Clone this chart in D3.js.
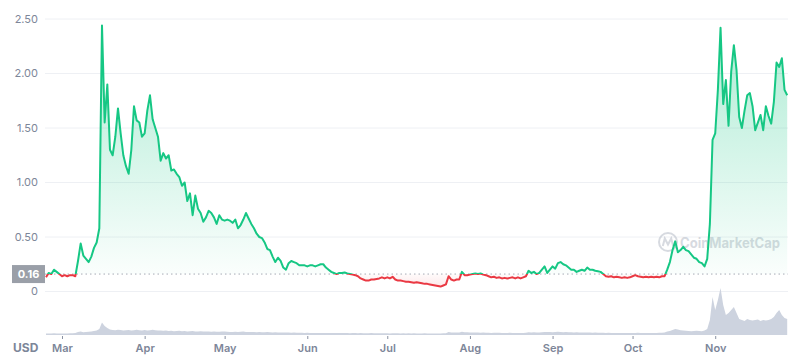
<!DOCTYPE html>
<html><head><meta charset="utf-8">
<script src="https://cdn.jsdelivr.net/npm/d3@7"></script>
<style>body{margin:0;background:#fff;}svg{display:block;font-family:Inter,"Noto Sans",sans-serif;}</style>
</head><body>
<svg id="c" width="800" height="356"></svg>
<script>
const startDate = "2021-02-23";
const baseline = 0.16;
const prices = [
0.13,0.17,0.16,0.20,0.18,0.16,0.14,0.15,0.14,0.15,
0.15,0.14,0.28,0.44,0.33,0.30,0.27,0.32,0.40,0.45,
0.58,2.44,1.55,1.90,1.30,1.25,1.42,1.68,1.45,1.25,
1.15,1.08,1.30,1.70,1.57,1.55,1.42,1.45,1.66,1.80,
1.58,1.50,1.42,1.20,1.27,1.22,1.25,1.11,1.12,1.08,
1.05,0.97,1.00,0.83,0.90,0.70,0.88,0.76,0.72,0.64,
0.68,0.74,0.72,0.68,0.62,0.70,0.66,0.65,0.66,0.65,
0.63,0.66,0.58,0.61,0.66,0.72,0.67,0.62,0.58,0.53,
0.50,0.49,0.45,0.39,0.38,0.32,0.27,0.31,0.28,0.22,
0.20,0.26,0.28,0.27,0.26,0.24,0.24,0.24,0.23,0.24,
0.24,0.23,0.24,0.25,0.25,0.22,0.20,0.18,0.17,0.16,
0.17,0.17,0.175,0.165,0.16,0.155,0.15,0.14,0.12,0.11,
0.10,0.10,0.11,0.11,0.115,0.12,0.13,0.12,0.13,0.12,
0.135,0.11,0.10,0.10,0.095,0.09,0.09,0.085,0.08,0.085,
0.08,0.075,0.07,0.07,0.065,0.06,0.055,0.05,0.045,0.055,
0.065,0.14,0.11,0.10,0.11,0.11,0.18,0.15,0.15,0.155,
0.16,0.165,0.16,0.165,0.155,0.15,0.14,0.13,0.135,0.125,
0.13,0.12,0.125,0.12,0.125,0.13,0.12,0.13,0.12,0.13,
0.14,0.19,0.17,0.18,0.16,0.17,0.20,0.23,0.17,0.20,
0.23,0.21,0.26,0.27,0.25,0.24,0.22,0.20,0.20,0.18,
0.19,0.20,0.19,0.22,0.20,0.20,0.19,0.185,0.18,0.16,
0.14,0.135,0.14,0.13,0.135,0.13,0.125,0.13,0.125,0.13,
0.14,0.15,0.14,0.135,0.13,0.135,0.13,0.135,0.13,0.135,
0.13,0.14,0.14,0.20,0.27,0.38,0.46,0.36,0.38,0.41,
0.38,0.37,0.34,0.31,0.30,0.27,0.26,0.23,0.30,0.62,
1.39,1.45,1.85,2.42,1.72,1.94,1.52,2.02,2.26,2.03,
1.60,1.50,1.66,1.80,1.82,1.70,1.48,1.55,1.62,1.48,
1.70,1.61,1.54,1.74,2.10,2.06,2.14,1.85,1.80
];
const volumes = [
15,14,16,18,15,14,16,15,14,17,18,20,
30,35,28,30,32,35,40,45,60,
125,90,70,
55,50,48,52,50,45,48,50,45,47,52,48,45,50,46,48,52,47,44,45,42,44,
40,42,38,40,42,38,40,36,38,40,36,35,38,34,36,35,33,34,32,33,35,34,32,30,31,33,30,32,34,30,29,31,30,28,29,27,28,30,28,26,27,25,26,24,25,24,23,24,22,23,22,21,
22,21,20,21,20,20,19,20,21,20,19,20,21,19,20,19,18,20,19,18,19,18,17,18,19,18,17,18,17,18,17,16,17,18,17,16,17,16,17,16,17,16,15,16,17,16,15,16,15,16,16,17,18,
30,25,24,26,25,32,28,27,26,25,
24,25,23,24,22,23,21,22,23,22,21,20,21,22,20,21,20,21,20,22,28,26,27,25,26,28,30,29,31,28,30,32,30,28,29,27,28,26,27,25,26,25,24,25,23,24,22,23,22,21,22,20,21,20,21,20,19,20,21,20,19,22,21,20,19,20,19,20,21,22,23,25,
35,40,50,60,55,48,45,42,40,38,40,42,40,38,45,60,
150,380,250,350,470,300,200,220,250,280,220,160,150,140,160,150,145,150,155,140,150,145,150,160,180,220,250,200,170,160
];
const yTickValues = [0, 0.5, 1, 1.5, 2, 2.5];
const yTickLabels = ["0", "0.50", "1.00", "1.50", "2.00", "2.50"];
const monthTicks = ["2021-03-01","2021-04-01","2021-05-01","2021-06-01","2021-07-01","2021-08-01","2021-09-01","2021-10-01","2021-11-01"];

const parse = d3.utcParse("%Y-%m-%d");
const t0 = parse(startDate);
const data = prices.map((p, i) => ({date: d3.utcDay.offset(t0, i), price: p, vol: volumes[i] || 0}));

const svg = d3.select("#c");
const x = d3.scaleUtc().domain([data[0].date, data[data.length-1].date]).range([46, 787.2]);
const y = d3.scaleLinear().domain([0, 2.5]).range([291.5, 19]);
const vy = d3.scaleLinear().domain([0, 470]).range([335, 288]);
const yB = y(baseline);
const GREEN = "#16c784", RED = "#ea3943";

const defs = svg.append("defs");
const grad = defs.append("linearGradient").attr("id","gfill").attr("gradientUnits","userSpaceOnUse")
  .attr("x1",0).attr("x2",0).attr("y1",y(2.5)).attr("y2",yB);
grad.append("stop").attr("offset","0%").attr("stop-color",GREEN).attr("stop-opacity",0.36);
grad.append("stop").attr("offset","100%").attr("stop-color",GREEN).attr("stop-opacity",0.02);
const rgrad = defs.append("linearGradient").attr("id","rfill").attr("gradientUnits","userSpaceOnUse")
  .attr("x1",0).attr("x2",0).attr("y1",yB).attr("y2",y(0));
rgrad.append("stop").attr("offset","0%").attr("stop-color",RED).attr("stop-opacity",0.02);
rgrad.append("stop").attr("offset","100%").attr("stop-color",RED).attr("stop-opacity",0.15);
defs.append("clipPath").attr("id","above").append("rect").attr("x",0).attr("y",0).attr("width",800).attr("height",yB);
defs.append("clipPath").attr("id","below").append("rect").attr("x",0).attr("y",yB).attr("width",800).attr("height",356-yB);

// grid
svg.append("g").selectAll("line").data(yTickValues).join("line")
  .attr("x1",45).attr("x2",788).attr("y1",d=>y(d)).attr("y2",d=>y(d))
  .attr("stroke","#eef0f4").attr("stroke-width",1);
// y labels
svg.append("g").selectAll("text").data(yTickValues).join("text")
  .attr("x",38).attr("y",d=>y(d)).attr("dy","0.35em").attr("text-anchor","end")
  .attr("font-size",11).attr("fill","#7d8699")
  .text((d,i)=>yTickLabels[i]);

// watermark
const wm = svg.append("g").attr("opacity",0.55);
wm.append("circle").attr("cx",668).attr("cy",242).attr("r",9).attr("fill","none").attr("stroke","#b7bdc8").attr("stroke-width",2);
wm.append("path").attr("d","M662.8,246 L664.8,238.5 L668,244.5 L671.2,238.5 L673.2,246").attr("fill","none").attr("stroke","#b7bdc8").attr("stroke-width",2);
wm.append("text").attr("x",680).attr("y",247.5).attr("font-size",14).attr("font-weight",700).attr("fill","#b7bdc8")
  .attr("textLength",100).attr("lengthAdjust","spacingAndGlyphs").text("CoinMarketCap");

// volume
svg.append("path").datum(data)
  .attr("d", d3.area().x(d=>x(d.date)).y0(335).y1(d=>vy(d.vol)))
  .attr("fill","#cdd3df");

// price area
const area = d3.area().x(d=>x(d.date)).y0(yB).y1(d=>y(d.price));
svg.append("path").datum(data).attr("d",area).attr("fill","url(#gfill)").attr("clip-path","url(#above)");
svg.append("path").datum(data).attr("d",area).attr("fill","url(#rfill)").attr("clip-path","url(#below)");

// baseline dotted
svg.append("line").attr("x1",45).attr("x2",788).attr("y1",yB).attr("y2",yB)
  .attr("stroke","#a6abb5").attr("stroke-width",1).attr("stroke-dasharray","1.5,3");

// price line
const line = d3.line().x(d=>x(d.date)).y(d=>y(d.price));
svg.append("path").datum(data).attr("d",line).attr("fill","none").attr("stroke",GREEN).attr("stroke-width",2).attr("stroke-linejoin","round").attr("clip-path","url(#above)");
svg.append("path").datum(data).attr("d",line).attr("fill","none").attr("stroke",RED).attr("stroke-width",2).attr("stroke-linejoin","round").attr("clip-path","url(#below)");

// baseline label
svg.append("rect").attr("x",12).attr("y",yB-9).attr("width",33).attr("height",18).attr("fill","#9a9fa8");
svg.append("text").attr("x",28.5).attr("y",yB).attr("dy","0.35em").attr("text-anchor","middle")
  .attr("font-size",11).attr("font-weight",700).attr("fill","#fff").text(baseline.toFixed(2));

// x axis
const xAxis = d3.axisBottom(x).tickValues(monthTicks.map(parse)).tickFormat(d3.utcFormat("%b")).tickSize(3).tickPadding(5);
const gx = svg.append("g").attr("transform","translate(0,336)").call(xAxis);
gx.select(".domain").remove();
gx.selectAll(".tick line").attr("stroke","#8a92a3");
gx.selectAll(".tick text").attr("font-size",11).attr("font-weight",600).attr("fill","#7d8699").attr("font-family","Inter,sans-serif");

svg.append("text").attr("x",13).attr("y",352).attr("font-size",12).attr("font-weight",700).attr("fill","#7d8699").text("USD");
</script>
</body></html>
